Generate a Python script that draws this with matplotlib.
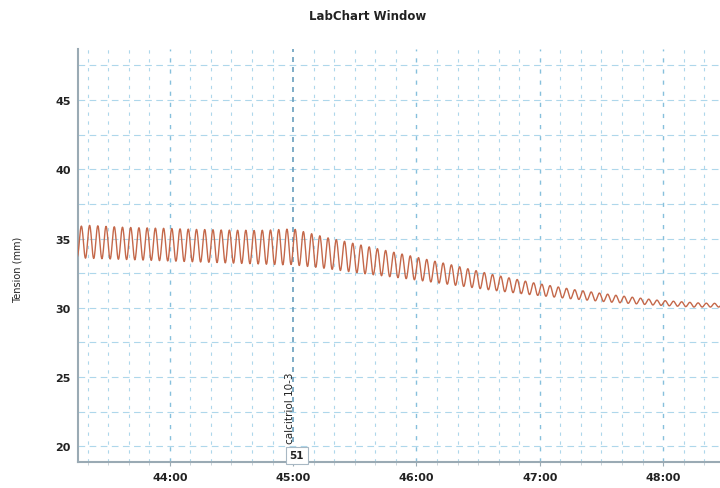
import numpy as np
import matplotlib
matplotlib.use("Agg")
import matplotlib.pyplot as plt

# ---- data ----
title = "LabChart Window"
y_label = "Tension (mm)"
x_tick_minutes = [44, 45, 46, 47, 48]
x_tick_labels = ["44:00", "45:00", "46:00", "47:00", "48:00"]
y_ticks = [20, 25, 30, 35, 40, 45]
comment_time = 45.0          # minutes
comment_text = "calcitriol 10-3"
comment_id = "51"

cycle_start = 43.25          # minutes, first trough
cycle_period_s = 4.0         # seconds per contraction cycle

peaks = [
    35.90, 35.95, 35.92, 35.88, 35.85,
    35.82, 35.80, 35.78, 35.77, 35.75,
    35.74, 35.72, 35.70, 35.68, 35.66,
    35.65, 35.64, 35.62, 35.61, 35.60,
    35.60, 35.58, 35.60, 35.62, 35.65,
    35.68, 35.66, 35.50, 35.35, 35.20,
    35.05, 34.92, 34.80, 34.66, 34.53,
    34.40, 34.27, 34.14, 34.01, 33.88,
    33.75, 33.62, 33.49, 33.36, 33.23,
    33.10, 32.96, 32.82, 32.68, 32.54,
    32.40, 32.28, 32.16, 32.04, 31.92,
    31.80, 31.70, 31.60, 31.50, 31.40,
    31.30, 31.22, 31.14, 31.06, 30.98,
    30.90, 30.83, 30.76, 30.69, 30.62,
    30.55, 30.51, 30.47, 30.43, 30.39,
    30.35, 30.33, 30.32, 30.30,
]
troughs = [
    33.70, 33.58, 33.56, 33.54, 33.52,
    33.50, 33.48, 33.46, 33.44, 33.42,
    33.40, 33.38, 33.36, 33.34, 33.32,
    33.30, 33.28, 33.26, 33.24, 33.22,
    33.20, 33.18, 33.16, 33.14, 33.12,
    33.10, 33.12, 33.05, 32.98, 32.92,
    32.85, 32.77, 32.69, 32.61, 32.53,
    32.45, 32.38, 32.31, 32.24, 32.17,
    32.10, 32.02, 31.94, 31.86, 31.78,
    31.70, 31.62, 31.54, 31.46, 31.38,
    31.30, 31.23, 31.16, 31.09, 31.02,
    30.95, 30.89, 30.83, 30.77, 30.71,
    30.65, 30.60, 30.55, 30.50, 30.45,
    30.40, 30.36, 30.32, 30.28, 30.24,
    30.20, 30.17, 30.14, 30.11, 30.08,
    30.05, 30.05, 30.05, 30.05,
]

# ---- build smooth trace through the read extremes ----
P = cycle_period_s / 60.0
ext_t, ext_v = [], []
for k in range(len(peaks)):
    ext_t.append(cycle_start + k * P); ext_v.append(troughs[k])
    ext_t.append(cycle_start + (k + 0.5) * P); ext_v.append(peaks[k])
tt, vv = [], []
s = np.linspace(0, 1, 12, endpoint=False)
for i in range(len(ext_t) - 1):
    a, b = ext_v[i], ext_v[i + 1]
    tt.extend(ext_t[i] + s * (ext_t[i + 1] - ext_t[i]))
    vv.extend(a + (b - a) * (1 - np.cos(np.pi * s)) / 2)
tt.append(ext_t[-1]); vv.append(ext_v[-1])

plt.rcParams['font.family'] = ['DejaVu Sans']
fig = plt.figure(figsize=(7.2, 4.89), dpi=100)
ax = fig.add_axes([0.108, 0.053, 0.892, 0.845])
xlim = (43.254, 48.461)
ylim = (18.85, 48.7)
ax.set_xlim(*xlim)
ax.set_ylim(*ylim)

# grid
grid_c = '#aed7eb'
for m in np.arange(43 + 2/6, 48.5 + 1e-9, 1/6):
    major = abs(m - round(m)) < 1e-6
    if abs(m - comment_time) < 1e-6:
        continue
    ax.axvline(m, color='#86c0dc' if major else grid_c, lw=1.0 if major else 0.8,
               ls=(0, (3, 5)), zorder=0)
for yv in np.arange(20, 48.7, 2.5):
    ax.axhline(yv, color=grid_c, lw=0.8, ls=(0, (6, 4)), zorder=0)
ax.axvline(comment_time, color='#6a9fbe', lw=1.2, ls=(0, (3, 3)), zorder=0)

ax.plot(tt, vv, color='#c4684a', lw=1.0, zorder=3)

for sp in ['top', 'right']:
    ax.spines[sp].set_visible(False)
for sp in ['left', 'bottom']:
    ax.spines[sp].set_color('#9aaab4')
    ax.spines[sp].set_linewidth(1.5)

ax.set_xticks(x_tick_minutes)
ax.set_xticklabels(x_tick_labels)
ax.set_xticks(np.arange(43 + 2/6, 48.5, 1/6), minor=True)
ax.tick_params(axis='x', which='major', length=3, color='#9aaab4', pad=4,
               labelsize=8, labelcolor='#222222')
ax.tick_params(axis='x', which='minor', length=2, color='#c0ccd4')
ax.set_yticks(y_ticks)
ax.tick_params(axis='y', length=0, pad=5, labelsize=8, labelcolor='#222222')
for lab in ax.get_xticklabels() + ax.get_yticklabels():
    lab.set_fontweight('bold')

fig.text(0.511, 0.967, title, ha='center', va='center', fontsize=8.5,
         color='#222222', fontweight='semibold')
fig.text(0.025, 0.448, y_label, rotation=90, ha='center', va='center',
         fontsize=7, color='#222222')

ax.text(comment_time - 0.025, 20.25, comment_text, rotation=90, ha='center',
        va='bottom', fontsize=7.5, color='#222222', zorder=4)
ax.text(comment_time + 0.03, 19.35, comment_id, ha='center', va='center',
        fontsize=7.5, color='#222222', fontweight='bold', zorder=5,
        bbox=dict(boxstyle='square,pad=0.35', fc='white', ec='#a8b8c4', lw=0.8))

fig.savefig('out.png', dpi=100)
